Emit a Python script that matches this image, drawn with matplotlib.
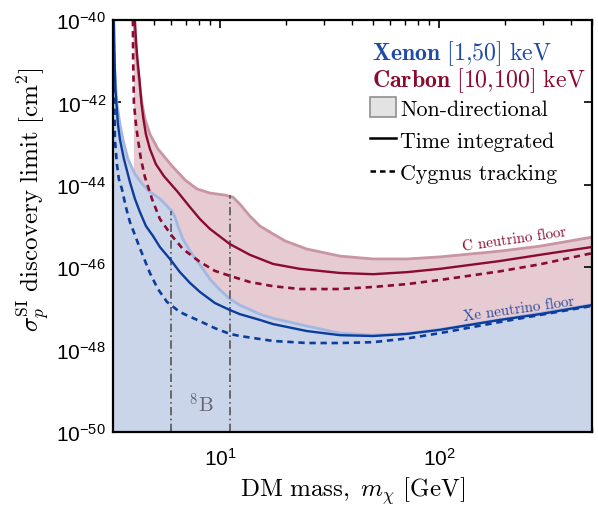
import numpy as np
import matplotlib
matplotlib.use("Agg")
import matplotlib.pyplot as plt
from matplotlib.patches import Patch
from matplotlib.lines import Line2D
from matplotlib.font_manager import FontProperties

plt.rcParams['mathtext.fontset'] = 'custom'
plt.rcParams['mathtext.rm'] = 'Liberation Sans'
plt.rcParams['mathtext.it'] = 'Liberation Sans:italic'
plt.rcParams['mathtext.bf'] = 'Liberation Sans:bold'
plt.rcParams['font.family'] = 'Liberation Sans'

# ---------------- data (mass in GeV, log10 of cross section in cm^2) ----------------
# Xenon neutrino floor (non-directional)
xe_floor_m = [3.214, 3.246, 3.281, 3.350, 3.386, 3.494, 3.606, 3.800, 4.092, 4.451, 4.791,
              5.321, 5.728, 6.038, 6.232, 6.431, 6.779, 7.452, 8.365, 9.000, 10.0, 11.11,
              12.34, 15.23, 17.46, 24.97, 35.32, 49.95, 71.44, 101.1, 189.9, 289, 500]
xe_floor_s = [-39.73, -40.00, -40.95, -41.67, -42.01, -42.52, -42.89, -43.37, -43.74, -44.00,
              -44.17, -44.34, -44.51, -44.64, -44.78, -45.00, -45.32, -45.68, -46.04, -46.29,
              -46.55, -46.77, -46.92, -47.14, -47.24, -47.43, -47.60, -47.65, -47.61, -47.51,
              -47.27, -47.12, -46.91]
# Xenon time integrated
xe_ti_m = [3.264, 3.281, 3.305, 3.333, 3.368, 3.421, 3.494, 3.644, 3.881, 4.092, 4.313,
           4.593, 4.945, 5.321, 5.912, 6.568, 7.296, 8.105, 9.489, 11.11, 12.34, 15.23,
           17.46, 24.97, 35.32, 49.95, 71.44, 101.1, 189.9, 289, 500]
xe_ti_s = [-39.73, -40.00, -40.95, -41.67, -42.01, -42.52, -42.89, -43.37, -43.93, -44.34,
           -44.66, -45.00, -45.24, -45.51, -45.80, -46.12, -46.38, -46.60, -46.87, -47.04,
           -47.14, -47.28, -47.38, -47.55, -47.65, -47.67, -47.62, -47.52, -47.28, -47.14,
           -46.92]
# Xenon Cygnus tracking
xe_cy_m = [3.257, 3.267, 3.281, 3.298, 3.315, 3.386, 3.457, 3.568, 3.721, 3.881, 4.092,
           4.313, 4.791, 5.212, 5.728, 6.568, 8.105, 9.489, 11.11, 12.34, 17.46, 24.97,
           35.32, 49.95, 71.44, 101.1, 189.9, 289, 500]
xe_cy_s = [-39.73, -40.00, -40.95, -42.01, -42.89, -43.50, -43.86, -44.10, -44.54, -44.90,
           -45.22, -45.54, -46.14, -46.53, -46.84, -47.09, -47.31, -47.48, -47.62, -47.67,
           -47.79, -47.84, -47.84, -47.82, -47.73, -47.60, -47.33, -47.16, -46.94]
# Carbon neutrino floor (non-directional)
c_floor_m = [4.027, 4.049, 4.092, 4.178, 4.267, 4.404, 4.545, 4.791, 5.212, 6.038, 6.923,
             7.852, 9.000, 10.54, 11.47, 12.34, 13.71, 15.23, 17.46, 19.81, 24.97, 35.32,
             49.95, 71.44, 101.1, 189.9, 289, 500]
c_floor_s = [-39.73, -40.00, -40.46, -40.95, -41.43, -42.01, -42.40, -42.77, -43.13, -43.54,
             -43.88, -44.10, -44.20, -44.25, -44.30, -44.47, -44.76, -45.00, -45.19, -45.36,
             -45.56, -45.73, -45.80, -45.80, -45.75, -45.61, -45.49, -45.27]
# Carbon time integrated
c_ti_m = [4.070, 4.092, 4.135, 4.200, 4.290, 4.381, 4.474, 4.593, 4.791, 5.103, 5.551,
          6.364, 7.296, 8.105, 9.000, 11.11, 13.71, 17.46, 23.19, 35.32, 49.95, 71.44,
          101.1, 189.9, 289, 500]
c_ti_s = [-39.73, -40.00, -40.46, -40.95, -41.43, -42.01, -42.40, -42.77, -43.13, -43.50,
          -43.79, -44.15, -44.54, -44.83, -45.07, -45.44, -45.70, -45.92, -46.04, -46.14,
          -46.17, -46.12, -46.04, -45.85, -45.70, -45.51]
# Carbon Cygnus tracking
c_cy_m = [3.998, 4.006, 4.016, 4.049, 4.135, 4.223, 4.358, 4.545, 4.893, 5.321, 6.038,
          6.779, 8.105, 9.489, 11.11, 13.71, 17.46, 23.19, 35.32, 49.95, 71.44, 101.1,
          189.9, 289, 500]
c_cy_s = [-39.73, -40.00, -40.95, -42.01, -42.52, -42.89, -43.37, -43.81, -44.34, -44.83,
          -45.24, -45.56, -45.87, -46.09, -46.21, -46.36, -46.46, -46.53, -46.53, -46.48,
          -46.41, -46.31, -46.10, -45.93, -45.66]
# 8B markers
b8_m = [6.0, 11.1]
b8_top = [-44.64, -44.25]

y_ticks_exp = [-50, -48, -46, -44, -42, -40]
x_ticks_exp = [1, 2]

BLUE = '#0c3c9c'
RED = '#8a0a30'
XE_FILL = '#cad5ea'
XE_EDGE = '#a2b8e2'
C_FILL = '#e6cbd3'
C_EDGE = '#c995a4'

def p(v):
    return 10.0 ** np.asarray(v, dtype=float)

fig = plt.figure(figsize=(5.98, 5.06), dpi=100)
ax = fig.add_axes([113/598, 1-433/506, 479/598, 412/506])
ax.set_xscale('log')
ax.set_yscale('log')
ymin = 1e-50

ax.fill_between(c_floor_m, p(c_floor_s), ymin, color=C_FILL, lw=0, zorder=1)
ax.plot(c_floor_m, p(c_floor_s), color=C_EDGE, lw=2.0, zorder=1.5)
ax.fill_between(xe_floor_m, p(xe_floor_s), ymin, color=XE_FILL, lw=0, zorder=2)
ax.plot(xe_floor_m, p(xe_floor_s), color=XE_EDGE, lw=2.0, zorder=2.5)

for m, t in zip(b8_m, b8_top):
    ax.plot([m, m], [ymin, p(t)], color='#555555', lw=1.2, ls=(0, (5, 2, 1, 2)), zorder=3)

ax.plot(c_ti_m, p(c_ti_s), color=RED, lw=1.7, zorder=4)
ax.plot(c_cy_m, p(c_cy_s), color=RED, lw=1.9, ls=(0, (2.4, 1.8)), zorder=4)
ax.plot(xe_ti_m, p(xe_ti_s), color=BLUE, lw=1.7, zorder=4)
ax.plot(xe_cy_m, p(xe_cy_s), color=BLUE, lw=1.9, ls=(0, (2.4, 1.8)), zorder=4)

ax.set_xlim(3.25, 500)
ax.set_ylim(1e-50, 1e-40)

ax.set_yticks(p(y_ticks_exp), [r'$10^{%d}$' % e for e in y_ticks_exp])
ax.yaxis.set_minor_locator(matplotlib.ticker.NullLocator())
ax.set_xticks(p(x_ticks_exp), [r'$10^{%d}$' % e for e in x_ticks_exp])
ax.xaxis.set_minor_locator(matplotlib.ticker.LogLocator(base=10, subs=np.arange(2, 10)))
ax.xaxis.set_minor_formatter(matplotlib.ticker.NullFormatter())
ax.tick_params(which='both', direction='in', top=True, right=True, labelsize=15)
ax.tick_params(which='major', length=6, width=1.2)
ax.tick_params(which='minor', length=3.5, width=1.0)
ax.tick_params(axis='x', pad=11)
ax.tick_params(axis='y', pad=5)
for s in ax.spines.values():
    s.set_linewidth(1.6)
    s.set_zorder(6)

ax.set_xlabel(r'$\mathrm{DM\ mass,}\ m_\chi\ \mathrm{[GeV]}$', fontsize=18, math_fontfamily='cm', labelpad=4)
ax.set_ylabel(r'$\sigma_p^{\rm SI}\ \mathrm{discovery\ limit\ [cm^2]}$', fontsize=18, math_fontfamily='cm')
ax.yaxis.set_label_coords(-0.128, 0.565)

ax.text(0.54, 0.922, r'$\mathbf{Xenon}\ \mathrm{[1{,}50]\ keV}$', transform=ax.transAxes,
        color='#1f4aa8', fontsize=17.2, math_fontfamily='cm', va='center', ha='left', zorder=7)
ax.text(0.54, 0.855, r'$\mathbf{Carbon}\ \mathrm{[10{,}100]\ keV}$', transform=ax.transAxes,
        color=RED, fontsize=17.2, math_fontfamily='cm', va='center', ha='left', zorder=7)

handles = [Patch(facecolor='#e3e3e3', edgecolor='#8f8f8f', lw=1.2),
           Line2D([], [], color='k', lw=1.8),
           Line2D([], [], color='k', lw=1.8, ls=(0, (2.2, 1.6)))]
labels = ['Non-directional', 'Time integrated', 'Cygnus tracking']
leg = ax.legend(handles, labels, loc='upper left', bbox_to_anchor=(0.536, 0.812),
                frameon=False, borderpad=0, borderaxespad=0, handlelength=1.2,
                handleheight=1.0, handletextpad=0.2, labelspacing=0.5,
                prop=FontProperties(family='cmr10', size=15.8))
leg.set_zorder(7)

ax.text(222, p(-45.32), 'C neutrino floor', color=RED, fontsize=10.8, family='cmr10',
        rotation=8.2, ha='center', va='center', rotation_mode='anchor', zorder=5)
ax.text(232, p(-47.01), 'Xe neutrino floor', color='#2a4ca0', fontsize=10.8, family='cmr10',
        rotation=8.0, ha='center', va='center', rotation_mode='anchor', zorder=5)
ax.text(8.28, p(-49.32), r'$^{8}\mathrm{B}$', color='#666677', fontsize=15,
        math_fontfamily='cm', ha='center', va='center', zorder=5)

fig.savefig('out.png', dpi=100)
